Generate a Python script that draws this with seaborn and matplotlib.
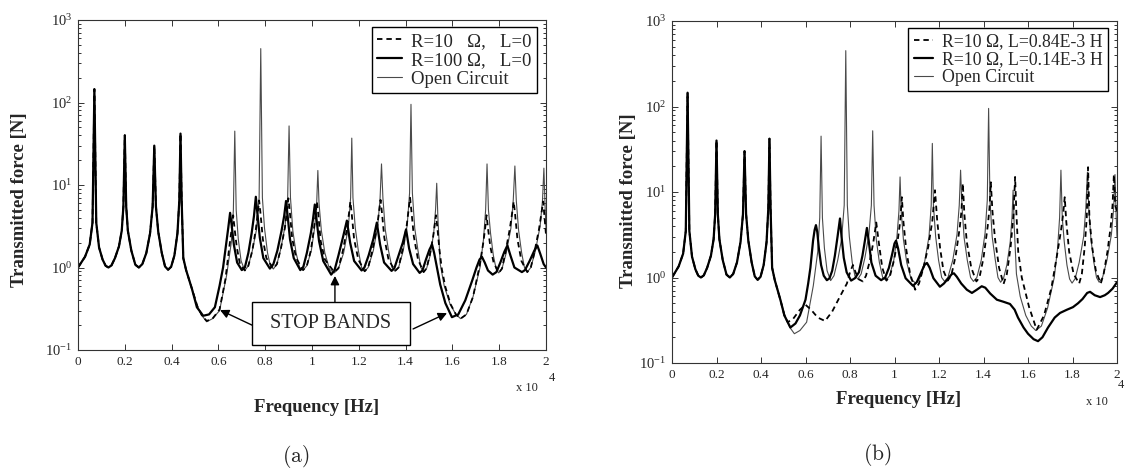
import numpy as np
import seaborn as sns
import matplotlib.pyplot as plt
from matplotlib import ticker
from matplotlib.lines import Line2D
from matplotlib.patches import Rectangle

# frequency in units of 1e4 Hz, transmitted force in N
# below ~0.49 all five curves lie on top of each other
low_f = [0.000, 0.030, 0.050, 0.062, 0.070, 0.078, 0.090, 0.105, 0.118, 0.130, 0.143,
         0.158, 0.175, 0.187, 0.194, 0.200, 0.206, 0.213, 0.228, 0.245, 0.260, 0.275,
         0.292, 0.308, 0.319, 0.326, 0.333, 0.343, 0.358, 0.372, 0.385, 0.398,
         0.412, 0.425, 0.433, 0.438, 0.443, 0.450, 0.462, 0.487]
low_y = [1.00, 1.35, 1.90, 3.5, 145, 3.5, 1.75, 1.25, 1.05, 1.00, 1.06,
         1.30, 1.80, 2.8, 5.5, 40, 5.5, 2.8, 1.60, 1.08, 1.00, 1.10,
         1.50, 2.6, 5.5, 30, 5.5, 2.7, 1.50, 1.03, 0.94, 1.02,
         1.40, 2.6, 6.5, 42, 6.5, 1.30, 0.93, 0.55]

# open circuit (same in both panels)
open_f = [0.510, 0.530, 0.550, 0.575, 0.605, 0.635, 0.655, 0.664, 0.670, 0.676, 0.685, 0.697,
          0.713, 0.728, 0.745, 0.762, 0.774, 0.781, 0.788, 0.797, 0.810, 0.822,
          0.835, 0.850, 0.867, 0.885, 0.896, 0.902, 0.908, 0.918, 0.932, 0.947,
          0.962, 0.978, 0.997, 1.011, 1.020, 1.025, 1.030, 1.040, 1.055, 1.075,
          1.095, 1.113, 1.135, 1.155, 1.165, 1.170, 1.175, 1.185, 1.198, 1.212,
          1.225, 1.240, 1.262, 1.281, 1.291, 1.297, 1.303, 1.313, 1.327, 1.342,
          1.355, 1.370, 1.390, 1.407, 1.417, 1.423, 1.429, 1.439, 1.453, 1.465,
          1.477, 1.490, 1.505, 1.520, 1.528, 1.533, 1.538, 1.548, 1.565, 1.590,
          1.615, 1.635, 1.660, 1.688, 1.718, 1.733, 1.742, 1.748, 1.754, 1.763, 1.775, 1.787,
          1.798, 1.812, 1.830, 1.850, 1.860, 1.867, 1.873, 1.883, 1.896, 1.908,
          1.920, 1.935, 1.955, 1.975, 1.985, 1.991, 1.996, 2.000]
open_y = [0.34, 0.26, 0.22, 0.24, 0.30, 0.80, 2.0, 5.0, 45, 5.0, 2.2, 1.2,
          0.92, 1.05, 1.6, 2.8, 7.0, 450, 7.0, 3.0, 1.5, 1.05,
          0.96, 1.10, 1.7, 3.2, 7.0, 52, 7.0, 2.8, 1.5, 1.0,
          0.93, 1.05, 1.6, 3.0, 6.0, 15, 6.0, 2.8, 1.5, 0.95,
          0.86, 0.97, 1.5, 3.0, 7.0, 37, 7.0, 3.0, 1.6, 1.0,
          0.90, 1.0, 1.6, 3.2, 7.0, 18, 7.0, 2.9, 1.6, 1.0,
          0.90, 1.0, 1.6, 3.3, 8.0, 95, 8.0, 3.0, 1.6, 1.0,
          0.88, 0.98, 1.4, 2.6, 5.0, 10.5, 4.0, 1.1, 0.60, 0.36,
          0.27, 0.24, 0.27, 0.44, 1.0, 2.2, 5.0, 18, 5.0, 2.6, 1.4, 0.96,
          0.86, 0.97, 1.5, 3.0, 6.5, 17, 6.5, 2.8, 1.5, 1.0,
          0.88, 1.0, 1.6, 3.2, 6.5, 16, 5.5, 3.0]

# (a) R=10 ohm, L=0
r10_f = [0.510, 0.530, 0.550, 0.575, 0.605, 0.630, 0.648, 0.657, 0.663, 0.669, 0.678, 0.692,
         0.713, 0.728, 0.745, 0.760, 0.768, 0.774, 0.780, 0.790, 0.805,
         0.835, 0.850, 0.867, 0.884, 0.893, 0.899, 0.905, 0.915, 0.932,
         0.962, 0.978, 0.995, 1.008, 1.016, 1.021, 1.027, 1.037, 1.055,
         1.095, 1.113, 1.132, 1.150, 1.158, 1.164, 1.170, 1.180, 1.198,
         1.225, 1.240, 1.258, 1.278, 1.286, 1.293, 1.299, 1.309, 1.327,
         1.355, 1.370, 1.386, 1.404, 1.412, 1.419, 1.425, 1.435, 1.453,
         1.477, 1.490, 1.505, 1.518, 1.524, 1.530, 1.536, 1.545, 1.555, 1.570,
         1.592, 1.615, 1.635, 1.660, 1.688, 1.715, 1.732, 1.740, 1.746, 1.752, 1.762, 1.776,
         1.798, 1.812, 1.826, 1.845, 1.855, 1.862, 1.868, 1.878, 1.895,
         1.920, 1.935, 1.950, 1.970, 1.980, 1.988, 1.994, 2.000]
r10_y = [0.34, 0.26, 0.225, 0.24, 0.31, 0.72, 1.9, 3.0, 4.3, 3.0, 1.8, 1.1,
         0.92, 1.05, 1.6, 2.9, 4.5, 6.5, 4.5, 2.2, 1.3,
         0.97, 1.10, 1.7, 3.0, 4.8, 6.9, 4.8, 2.3, 1.3,
         0.93, 1.05, 1.6, 2.9, 4.5, 6.3, 4.4, 2.1, 1.25,
         0.88, 0.98, 1.6, 3.0, 4.5, 6.3, 4.4, 2.2, 1.25,
         0.90, 1.0, 1.6, 3.1, 4.7, 6.6, 4.6, 2.3, 1.25,
         0.91, 1.0, 1.6, 3.1, 4.8, 7.0, 4.8, 2.4, 1.25,
         0.88, 0.98, 1.5, 2.4, 3.2, 4.3, 3.0, 1.6, 0.95, 0.58,
         0.36, 0.27, 0.24, 0.27, 0.44, 1.0, 2.0, 3.0, 4.3, 3.0, 1.8, 1.15,
         0.86, 0.97, 1.5, 2.9, 4.5, 6.3, 4.4, 2.2, 1.2,
         0.88, 1.0, 1.5, 2.9, 4.5, 6.3, 4.0, 2.5]

# (a) R=100 ohm, L=0
r100_f = [0.508, 0.535, 0.560, 0.585, 0.605, 0.620, 0.632, 0.642, 0.650, 0.657, 0.666, 0.680,
          0.700, 0.713, 0.728, 0.742, 0.752, 0.760, 0.767, 0.777, 0.792,
          0.820, 0.835, 0.852, 0.870, 0.881, 0.889, 0.896, 0.906, 0.922,
          0.950, 0.963, 0.978, 0.995, 1.004, 1.012, 1.019, 1.030, 1.048,
          1.082, 1.096, 1.113, 1.132, 1.149, 1.163, 1.180,
          1.212, 1.224, 1.242, 1.262, 1.277, 1.291, 1.308,
          1.340, 1.352, 1.368, 1.388, 1.402, 1.415, 1.432,
          1.460, 1.472, 1.487, 1.502, 1.513, 1.522, 1.534, 1.548, 1.570,
          1.598, 1.625, 1.655, 1.685, 1.703, 1.716, 1.726, 1.738, 1.752,
          1.772, 1.788, 1.805, 1.822, 1.835, 1.848, 1.865,
          1.897, 1.910, 1.930, 1.950, 1.963, 1.976, 1.990, 2.000]
r100_y = [0.33, 0.26, 0.27, 0.33, 0.60, 1.0, 1.8, 3.0, 4.6, 3.2, 1.9, 1.15,
          0.93, 1.0, 1.5, 2.6, 4.2, 7.2, 4.4, 2.3, 1.3,
          0.97, 1.10, 1.6, 2.8, 4.2, 6.4, 4.2, 2.2, 1.3,
          0.93, 1.02, 1.5, 2.6, 3.8, 5.8, 3.9, 2.1, 1.2,
          0.82, 0.92, 1.4, 2.3, 3.7, 2.0, 1.2,
          0.92, 1.0, 1.4, 2.2, 3.5, 1.9, 1.15,
          0.91, 0.98, 1.35, 2.0, 2.9, 1.7, 1.1,
          0.86, 0.92, 1.25, 1.65, 1.9, 1.5, 1.0, 0.62, 0.37,
          0.25, 0.27, 0.40, 0.70, 1.0, 1.25, 1.35, 1.15, 0.92,
          0.82, 0.88, 1.15, 1.55, 1.85, 1.4, 1.0,
          0.88, 0.93, 1.2, 1.6, 1.85, 1.45, 1.1, 1.0]

# (b) R=10 ohm, L=0.84E-3 H
l084_f = [0.505, 0.520, 0.545, 0.575, 0.600, 0.625, 0.655, 0.688, 0.720, 0.755, 0.786, 0.800,
          0.813, 0.825, 0.840, 0.858, 0.872, 0.890, 0.905, 0.918, 0.930, 0.945,
          0.964, 0.980, 0.998, 1.015, 1.026, 1.033, 1.040, 1.052, 1.070,
          1.093, 1.110, 1.130, 1.152, 1.170, 1.182, 1.192, 1.205, 1.220,
          1.239, 1.255, 1.275, 1.293, 1.301, 1.307, 1.314, 1.325, 1.345,
          1.368, 1.382, 1.400, 1.419, 1.427, 1.433, 1.440, 1.452, 1.470,
          1.490, 1.505, 1.522, 1.535, 1.542, 1.548, 1.556, 1.572, 1.605,
          1.639, 1.672, 1.705, 1.730, 1.748, 1.758, 1.765, 1.772, 1.785, 1.805,
          1.830, 1.842, 1.855, 1.864, 1.870, 1.876, 1.888, 1.905,
          1.927, 1.940, 1.957, 1.972, 1.980, 1.986, 1.992, 2.000]
l084_y = [0.36, 0.30, 0.33, 0.42, 0.48, 0.42, 0.34, 0.31, 0.40, 0.60, 0.85, 1.15,
          1.4, 1.15, 0.95, 0.90, 1.05, 1.6, 2.6, 4.4, 2.5, 1.3,
          0.92, 1.05, 1.6, 2.8, 4.6, 8.7, 4.5, 2.2, 1.1,
          0.72, 0.85, 1.3, 2.3, 4.6, 10.5, 4.6, 2.2, 1.2,
          0.92, 1.05, 1.8, 3.8, 6.0, 12.6, 5.5, 2.6, 1.3,
          0.90, 1.0, 1.7, 4.0, 6.5, 13, 6.0, 2.8, 1.3,
          0.84, 1.1, 2.3, 5.5, 15, 5.5, 2.0, 1.0, 0.45,
          0.245, 0.36, 0.75, 1.8, 3.5, 5.5, 8.7, 4.5, 2.0, 1.1,
          0.85, 1.1, 2.3, 5.0, 19.5, 5.0, 2.3, 1.2,
          0.85, 1.1, 2.0, 4.0, 7.0, 16, 7.0, 6.0]

# (b) R=10 ohm, L=0.14E-3 H
l014_f = [0.505, 0.532, 0.555, 0.575, 0.600, 0.612, 0.622, 0.634, 0.641, 0.647, 0.653, 0.660,
          0.670, 0.682, 0.696, 0.708, 0.720, 0.732, 0.744, 0.755, 0.762, 0.772, 0.785,
          0.805, 0.822, 0.840, 0.856, 0.868, 0.876, 0.884, 0.896, 0.915,
          0.940, 0.958, 0.975, 0.990, 1.000, 1.007, 1.016, 1.030, 1.050,
          1.083, 1.100, 1.120, 1.135, 1.146, 1.158, 1.175,
          1.204, 1.222, 1.245, 1.258, 1.267, 1.280, 1.300, 1.325,
          1.348, 1.370, 1.392, 1.408, 1.430, 1.460, 1.490, 1.519, 1.540, 1.555,
          1.580, 1.600, 1.625, 1.645, 1.665, 1.690, 1.720, 1.744, 1.775, 1.802,
          1.825, 1.845, 1.866, 1.879, 1.900, 1.924, 1.945, 1.960, 1.980, 2.000]
l014_y = [0.36, 0.26, 0.29, 0.36, 0.55, 0.85, 1.3, 2.7, 3.6, 4.1, 3.4, 2.2,
          1.4, 1.05, 0.93, 0.98, 1.2, 1.8, 3.0, 4.9, 3.0, 1.7, 1.15,
          0.92, 0.98, 1.15, 1.8, 2.8, 3.8, 2.7, 1.5, 1.05,
          0.93, 1.0, 1.3, 1.9, 2.5, 2.7, 2.2, 1.4, 0.98,
          0.80, 0.88, 1.15, 1.4, 1.48, 1.3, 0.98,
          0.78, 0.85, 1.0, 1.1, 1.12, 1.02, 0.85, 0.72,
          0.66, 0.72, 0.79, 0.76, 0.65, 0.55, 0.52, 0.49, 0.42, 0.34,
          0.26, 0.22, 0.19, 0.18, 0.20, 0.26, 0.34, 0.385, 0.42, 0.45,
          0.50, 0.56, 0.66, 0.68, 0.62, 0.59, 0.62, 0.66, 0.74, 0.88]

xtick_vals = [0, 0.2, 0.4, 0.6, 0.8, 1.0, 1.2, 1.4, 1.6, 1.8, 2.0]

sns.set_theme(style='ticks')
plt.rcParams['font.family'] = ['Liberation Serif', 'DejaVu Serif']
plt.rcParams['mathtext.fontset'] = 'custom'
plt.rcParams['mathtext.rm'] = 'Liberation Serif'
plt.rcParams['mathtext.it'] = 'Liberation Serif:italic'
plt.rcParams['mathtext.bf'] = 'Liberation Serif:bold'

W, H = 1126, 470
fig = plt.figure(figsize=(W / 100, H / 100), dpi=100)


def box(x0, y0, x1, y1):
    # pixel box (top-left origin) -> figure fraction rect
    return [x0 / W, 1 - y1 / H, (x1 - x0) / W, (y1 - y0) / H]


def fx(x, y):
    return x / W, 1 - y / H


ax1 = fig.add_axes(box(78, 20, 546, 350))
ax2 = fig.add_axes(box(672, 21, 1117, 363))

thin = dict(color='#4a4a4a', lw=0.8)
thick = dict(color='black', lw=1.6)
dash = dict(color='black', lw=1.3, linestyle=(0, (3, 2.2)))


def curve(ax, f, y, style):
    sns.lineplot(x=low_f + f, y=low_y + y, ax=ax, estimator=None, sort=False, **style)


curve(ax1, open_f, open_y, thin)
curve(ax1, r10_f, r10_y, dash)
curve(ax1, r100_f, r100_y, thick)

curve(ax2, open_f, open_y, thin)
curve(ax2, l084_f, l084_y, dash)
curve(ax2, l014_f, l014_y, thick)

for ax in (ax1, ax2):
    ax.set_yscale('log')
    ax.set_xlim(0, 2)
    ax.set_ylim(0.1, 1000)
    ax.set_xticks(xtick_vals)
    ax.xaxis.set_major_formatter(ticker.FuncFormatter(lambda v, p: '%g' % v))
    ax.yaxis.set_major_locator(ticker.LogLocator(base=10, numticks=10))
    ax.yaxis.set_minor_locator(ticker.LogLocator(base=10, subs=np.arange(2, 10), numticks=10))
    ax.yaxis.set_major_formatter(ticker.LogFormatterMathtext())
    ax.yaxis.set_minor_formatter(ticker.NullFormatter())
    ax.tick_params(which='both', direction='in', top=True, right=True,
                   color='#333333', width=0.7, pad=4)
    ax.tick_params(axis='x', labelsize=9.5)
    ax.tick_params(axis='y', labelsize=10.5)
    ax.tick_params(which='major', length=4)
    ax.tick_params(which='minor', length=2)
    ax.set_xlabel('')
    ax.set_ylabel('')
    for s in ax.spines.values():
        s.set_color('#333333')
        s.set_linewidth(0.8)

# legends
h_dash = Line2D([], [], **dash)
h_thick = Line2D([], [], **thick)
h_thin = Line2D([], [], **thin)
leg_kw = dict(loc='upper right', frameon=True, fancybox=False, edgecolor='black',
              framealpha=1, handletextpad=0.5, borderpad=0.3, borderaxespad=0.0)
leg1 = ax1.legend([h_dash, h_thick, h_thin],
                  ['R=10   \u03a9,   L=0', 'R=100 \u03a9,   L=0', 'Open Circuit'],
                  bbox_to_anchor=(0.981, 0.979), fontsize=13.5, handlelength=1.3,
                  labelspacing=0.1, **leg_kw)
leg2 = ax2.legend([h_dash, h_thick, h_thin],
                  ['R=10 \u03a9, L=0.84E-3 H', 'R=10 \u03a9, L=0.14E-3 H', 'Open Circuit'],
                  bbox_to_anchor=(0.980, 0.980), fontsize=12.8, handlelength=1.1,
                  labelspacing=0.05, **leg_kw)
for lg in (leg1, leg2):
    lg.get_frame().set_linewidth(1.0)

# stop band annotation in (a)
ax1.add_patch(Rectangle((0.372, 0.015), 0.337, 0.130, transform=ax1.transAxes,
                        facecolor='white', edgecolor='black', lw=1.0, zorder=5))
ax1.text(0.5405, 0.08, 'STOP BANDS', transform=ax1.transAxes, ha='center', va='center',
         fontsize=14.5, zorder=6)
arrow = dict(arrowstyle='-|>', color='black', lw=1.0, mutation_scale=13, shrinkA=0, shrinkB=0)
ax1.annotate('', xy=(0.607, 0.305), xytext=(0.744, 0.20), arrowprops=arrow, zorder=6)
ax1.annotate('', xy=(1.098, 0.79), xytext=(1.098, 0.382), arrowprops=arrow, zorder=6)
ax1.annotate('', xy=(1.577, 0.28), xytext=(1.432, 0.18), arrowprops=arrow, zorder=6)

# axis labels and captions
lab = dict(fontsize=13.5, fontweight='bold', ha='center', va='center')
fig.text(*fx(20, 200), 'Transmitted force [N]', rotation=90, **lab)
fig.text(*fx(628, 201), 'Transmitted force [N]', rotation=90, **lab)
fig.text(*fx(317, 408), 'Frequency [Hz]', **lab)
fig.text(*fx(899, 400), 'Frequency [Hz]', **lab)

fig.text(*fx(527, 388), 'x 10', fontsize=9, ha='center', va='center')
fig.text(*fx(552, 378), '4', fontsize=9, ha='center', va='center')
fig.text(*fx(1097, 402), 'x 10', fontsize=9, ha='center', va='center')
fig.text(*fx(1121, 385), '4', fontsize=9, ha='center', va='center')

fig.text(*fx(296, 457), r'$\mathrm{(a)}$', fontsize=15.5, ha='center', va='center',
         math_fontfamily='cm')
fig.text(*fx(877, 455), r'$\mathrm{(b)}$', fontsize=15.5, ha='center', va='center',
         math_fontfamily='cm')

fig.savefig('out.png', dpi=100)
